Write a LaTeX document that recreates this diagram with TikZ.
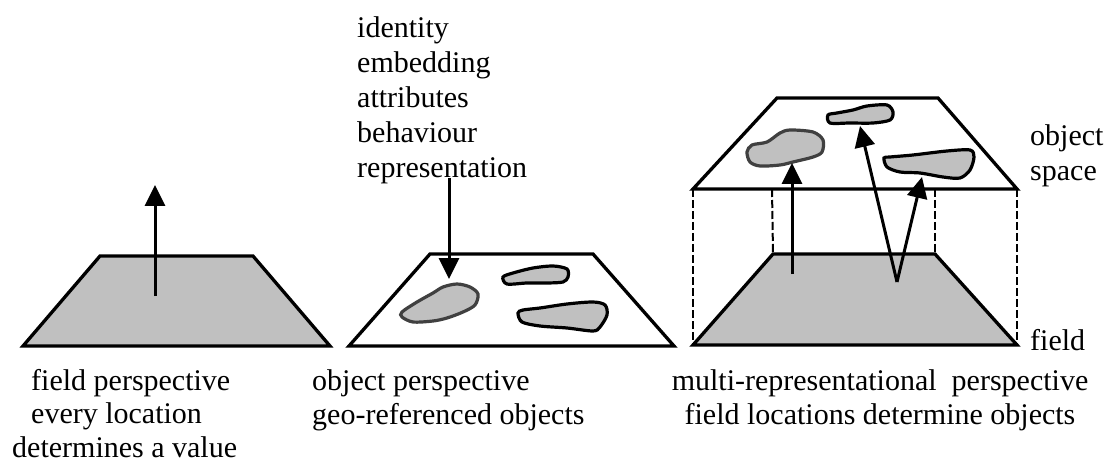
\documentclass[tikz,border=0pt]{standalone}
\usepackage{fontspec}
\setmainfont{Liberation Serif}
\usetikzlibrary{arrows.meta,positioning}
\definecolor{planegray}{RGB}{192,192,192}
\definecolor{blobline}{RGB}{64,64,64}
\tikzset{
	plane/.style={draw,line width=3.3pt},
	arr/.style={line width=3pt,-{Triangle[length=21pt,width=20pt]}},
	blob/.style={draw,fill=planegray,line width=3.2pt},
	darkblob/.style={blob,draw=blobline},
	pillar/.style={dash pattern=on 8pt off 3pt,line width=2pt},
	lbl/.style={inner sep=0pt,font=\fontsize{30}{34}\selectfont},
}
\begin{document}
\begin{tikzpicture}[x=1pt,y=-1pt]
	\useasboundingbox (0,0) rectangle (1110,462);

	% field perspective
	\coordinate(f1) at (23,346);
	\coordinate(f2) at (100,256);
	\coordinate(f3) at (253,256);
	\coordinate(f4) at (330,346);
	\coordinate(fbase) at (155,296);
	\coordinate(ftip) at (155,185);
	\draw[plane,fill=planegray] (f1) -- (f2) -- (f3) -- (f4) -- cycle;
	\draw[arr] (fbase) -- (ftip);
	\node[lbl,anchor=north west,align=left,font=\fontsize{30}{33.5}\selectfont] (fieldtxt) at (12,369)
		{\hspace*{19pt}field perspective\\\hspace*{19pt}every location\\determines a value};

	% object perspective
	\coordinate(o1) at (349,346);
	\coordinate(o2) at (430,254);
	\coordinate(o3) at (593,254);
	\coordinate(o4) at (674,346);
	\draw[plane,fill=white] (o1) -- (o2) -- (o3) -- (o4) -- cycle;
	\draw[darkblob] plot[smooth cycle] coordinates {(402,312) (417,302) (433,293) (443,287) (457,284) (470,287) (478,294) (475,305) (463,312) (447,318) (433,321) (413,322) (402,317)};
	\draw[blob] plot[smooth cycle] coordinates {(503,277) (513,273) (533,268) (553,266) (567,269) (568,277) (563,282) (547,283) (527,283) (507,284)};
	\draw[blob] plot[smooth cycle] coordinates {(518,313) (523,310) (540,308) (567,304) (593,302) (605,305) (607,315) (600,327) (593,331) (567,328) (540,326) (522,322)};
	\node[lbl,anchor=north west,align=left,font=\fontsize{30}{35}\selectfont] (props) at (357,16.5)
		{identity\\embedding\\attributes\\behaviour\\representation};
	\coordinate(pbase) at (449,178);
	\coordinate(ptip) at (449,279);
	\draw[arr] (pbase) -- (ptip);
	\node[lbl,anchor=north west,align=left] (objtxt) at (312,369.5)
		{object perspective\\geo-referenced objects};

	% multi-representational perspective
	\coordinate(b1) at (693,345);
	\coordinate(b2) at (773,254);
	\coordinate(b3) at (935,254);
	\coordinate(b4) at (1017,345);
	\coordinate(t1) at (693,189);
	\coordinate(t2) at (777,98);
	\coordinate(t3) at (938,98);
	\coordinate(t4) at (1017,189);
	\draw[pillar] (t1) -- (b1);
	\draw[pillar] (t4) -- (b4);
	\draw[pillar] (772,189) -- (b2);
	\draw[pillar] (935,189) -- (b3);
	\draw[plane,fill=planegray] (b1) -- (b2) -- (b3) -- (b4) -- cycle;
	\draw[plane,fill=white] (t1) -- (t2) -- (t3) -- (t4) -- cycle;
	\draw[darkblob] plot[smooth cycle] coordinates {(747,152) (752,145) (767,142) (780,133) (790,130) (813,132) (823,140) (822,152) (813,157) (793,162) (780,165) (760,166) (750,162)};
	\draw[blob] plot[smooth cycle] coordinates {(828,115) (837,113) (853,110) (867,106) (887,105) (893,112) (890,120) (873,123) (850,123) (830,123)};
	\draw[blob] plot[smooth cycle] coordinates {(884,158) (890,157) (913,155) (947,151) (970,150) (974,157) (970,170) (960,178) (943,177) (920,173) (900,172) (887,167)};
	\coordinate(m1) at (792,274);
	\coordinate(m2) at (897,282);
	\draw[arr] (m1) -- (792,163);
	\draw[arr] (m2) -- (860,126);
	\draw[arr] (m2) -- (922,177);
	\node[lbl,anchor=north west,align=left,font=\fontsize{30}{35}\selectfont] (space) at (1030,124.5) {object\\space};
	\node[lbl,anchor=base west] (field) at (1030,350) {field};
	\node[lbl,anchor=north,align=center] (multitxt) at (880,369.5)
		{multi-representational\ \ perspective\\field locations determine objects};
\end{tikzpicture}
\end{document}
